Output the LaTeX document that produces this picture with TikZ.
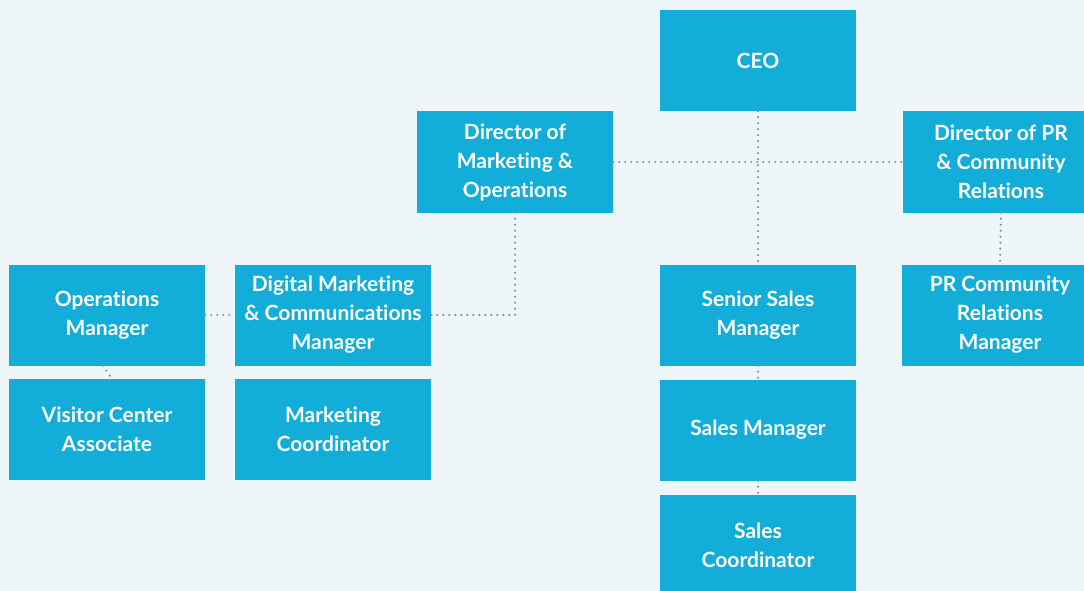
\documentclass[tikz,border=0pt]{standalone}
\usepackage{fontspec}
\setmainfont{Lato}[RawFeature=-liga]
\definecolor{boxblue}{RGB}{18,173,216}
\definecolor{pagebg}{RGB}{238,246,250}
\definecolor{dotgray}{RGB}{140,142,150}
\begin{document}
\begin{tikzpicture}[x=1pt, y=-1pt,
  role/.style={rectangle, fill=boxblue, text=white, minimum width=196pt, minimum height=101pt, inner sep=0pt, align=center, font=\fontsize{21}{29}\selectfont\bfseries},
  link/.style={dotgray, line width=2.4pt, line cap=round, dash pattern=on 0pt off 6pt}]
\clip (0,0) rectangle (1084,591);
\fill[pagebg] (0,0) rectangle (1084,591);

\node[role] (ceo) at (758,60.5) {CEO};

\node[role] (dirmo) at (515,162) {Director of\\Marketing \&\\Operations};
\node[role] (dirpr) at (1001,162) {Director of PR\\\& Community\\Relations};

\node[role] (opsmgr) at (107,315) {Operations\\Manager};
\node[role] (digital) at (333,315) {Digital Marketing\\\& Communications\\Manager};
\node[role] (senior) at (758,315) {Senior Sales\\Manager};
\node[role] (prmgr) at (1000,315) {PR Community\\Relations\\Manager};

\node[role] (visitor) at (107,429.5) {Visitor Center\\Associate};
\node[role] (mktcoord) at (333,429.5) {Marketing\\Coordinator};
\node[role] (salesmgr) at (758,430) {Sales Manager};

\node[role] (salescoord) at (758,545.5) {Sales\\Coordinator};

\draw[link] (ceo.south) -- (senior.north);
\draw[link] (dirmo.east) -- (dirpr.west);
\draw[link] (dirmo.south) |- (digital.east);
\draw[link] (opsmgr.east) -- (digital.west);
\draw[link] ([xshift=-4pt]opsmgr.south) -- ([xshift=5pt]visitor.north);
\draw[link] (senior.south) -- (salesmgr.north);
\draw[link] (salesmgr.south) -- (salescoord.north);
\draw[link] (dirpr.south) -- (prmgr.north);
\end{tikzpicture}
\end{document}
